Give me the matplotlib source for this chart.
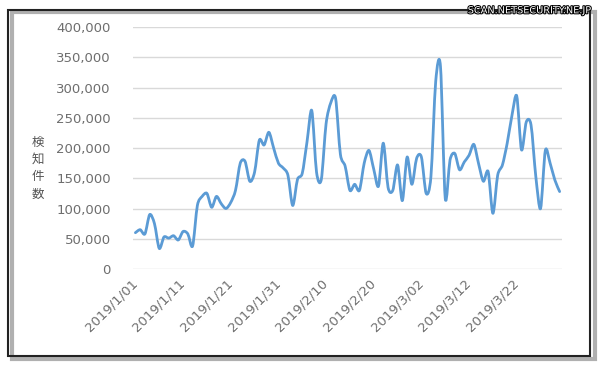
import numpy as np
import pandas as pd
from matplotlib import pyplot as plt
from matplotlib.path import Path
from matplotlib.patches import PathPatch, Rectangle
import matplotlib.patheffects as pe

# daily detections, 2019/1/1 .. 2019/3/31
dates = pd.date_range('2019-01-01', '2019-03-31', freq='D')
counts = [60000, 65000, 58000, 90000, 75000, 34000, 53000, 51000, 55000, 48000,
          62000, 58000, 38000, 105000, 120000, 125000, 102000, 120000, 108000, 100000,
          110000, 130000, 175000, 178000, 145000, 160000, 213000, 205000, 226000, 200000,
          175000, 167000, 155000, 105000, 148000, 158000, 210000, 262000, 160000, 148000,
          240000, 275000, 282000, 190000, 170000, 130000, 140000, 130000, 175000, 196000,
          165000, 137000, 208000, 135000, 130000, 172000, 113000, 185000, 140000, 183000,
          185000, 125000, 153000, 310000, 335000, 117000, 180000, 191000, 164000, 177000,
          188000, 206000, 174000, 145000, 161000, 92000, 155000, 172000, 208000, 254000,
          286000, 197000, 243000, 238000, 153000, 100000, 196000, 175000, 147000, 128000]
tick_every = 10
y_ticks = [0, 50000, 100000, 150000, 200000, 250000, 300000, 350000, 400000]
y_label = '検知件数'
watermark = 'SCAN.NETSECURITY.NE.JP'

def smooth_path(x, y, k=7.0):
    """Excel-like smoothed line: cubic bezier segments through every point."""
    pts = np.column_stack([x, y]).astype(float)
    verts = [pts[0]]
    codes = [Path.MOVETO]
    n = len(pts)
    for i in range(n - 1):
        p0 = pts[max(i - 1, 0)]
        p1 = pts[i]
        p2 = pts[i + 1]
        p3 = pts[min(i + 2, n - 1)]
        c1 = p1 + (p2 - p0) / k
        c2 = p2 - (p3 - p1) / k
        verts += [c1, c2, p2]
        codes += [Path.CURVE4] * 3
    return Path(verts, codes)

plt.rcParams['font.family'] = ['DejaVu Sans', 'Noto Sans CJK JP']

fig = plt.figure(figsize=(6.0, 3.68), dpi=100)
ax = fig.add_axes([0.2217, 0.269, 0.715, 0.6576])

x = np.arange(len(counts))
ax.add_patch(PathPatch(smooth_path(x, counts), facecolor='none',
                       edgecolor='#5B9BD5', lw=2.0, capstyle='round', joinstyle='round'))

ax.set_xlim(-0.5, len(counts) - 0.5)
ax.set_ylim(0, 400000)
ax.set_yticks(y_ticks)
ax.set_yticklabels([f'{v:,}' for v in y_ticks], color='#6e6e6e', fontsize=9.5)
ax.yaxis.grid(True, color='#d9d9d9', lw=1.0)
ax.set_axisbelow(True)

ticks = x[::tick_every]
ax.set_xticks(ticks)
ax.set_xticklabels([f'{d.year}/{d.month}/{d.day:02d}' for d in dates[::tick_every]],
                   rotation=45, ha='right', va='center', rotation_mode='anchor',
                   color='#6e6e6e', fontsize=9.5)
ax.tick_params(axis='both', length=0)
ax.tick_params(axis='x', pad=9)
ax.tick_params(axis='y', pad=16)
for s in ax.spines.values():
    s.set_visible(False)

# vertical stacked y label
fig.text(0.063, 0.543, '\n'.join(y_label), family=['Noto Sans CJK JP', 'DejaVu Sans'],
         fontsize=9, color='#555555', ha='center', va='center', linespacing=1.45)

# outer frame with shadow
fig.patches.append(Rectangle((0.020, 0.025), 0.972, 0.942, transform=fig.transFigure,
                             facecolor='none', edgecolor='#b0b0b0', lw=3.0, zorder=0))
fig.patches.append(Rectangle((0.014, 0.032), 0.970, 0.940, transform=fig.transFigure,
                             facecolor='none', edgecolor='#222222', lw=1.5, zorder=1))

fig.text(0.985, 0.972, watermark, fontsize=7, color='white', ha='right', va='center',
         path_effects=[pe.withStroke(linewidth=1.5, foreground='black')])

fig.savefig('out.png', dpi=100)
